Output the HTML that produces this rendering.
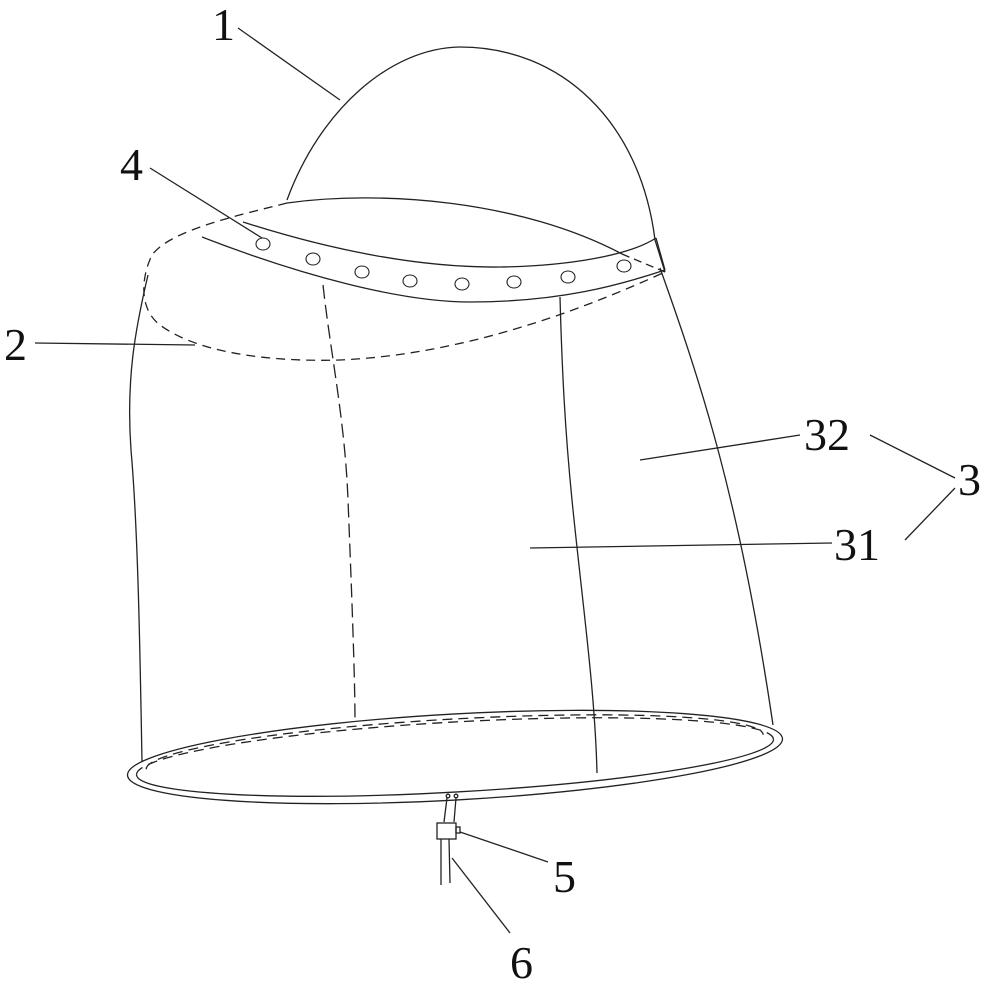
<!DOCTYPE html>
<html><head><style>html,body{margin:0;padding:0;background:#fff}svg{display:block}</style></head>
<body>
<svg width="1000" height="984" viewBox="0 0 1000 984" xmlns="http://www.w3.org/2000/svg">
<g fill="none" stroke="#222" stroke-width="1.3">
<!-- dome -->
<path d="M287,200 C320,110 390,48 460,47 C560,47 640,120 655,240 L665,272"/>
<!-- body right -->
<path d="M660,268 C700,380 740,500 773,725"/>
<!-- brim top -->
<path d="M287,203 C380,190 520,200 622,254"/>
<path d="M622,254 L665,272" stroke-dasharray="8,5"/>
<!-- band -->
<path d="M243,222 C330,250 420,268 500,267 C570,266 630,255 656,238"/>
<path d="M202,237 C300,275 400,302 470,302 C560,302 620,285 665,270"/>
<path d="M656,238 L665,270"/>
<!-- dashed brim 2 -->
<path d="M287,203 C240,215 170,230 152,255 C140,280 140,310 160,325 C200,355 280,362 340,360 C450,355 560,320 665,272" stroke-dasharray="9,6"/>
<!-- left body -->
<path d="M148,275 C135,330 126,380 131,450 C138,530 140,650 142,762"/>
<!-- dashed middle -->
<path d="M323,285 C330,350 345,420 348,500 C352,600 355,680 355,722" stroke-dasharray="14,6"/>
<!-- solid middle -->
<path d="M560,297 C562,370 565,430 572,500 C582,600 595,690 597,773"/>
<!-- ring -->
<g transform="rotate(-3.2 455 757)">
<ellipse cx="455" cy="757" rx="328" ry="43"/>
<path d="M136,757 A319,35 0 0 0 774,757"/>
<path d="M136,757 A319,35 0 0 1 774,757" stroke-dasharray="10,6"/>
<path d="M146,752 A309,33 0 0 1 764,752" stroke-dasharray="10,6"/>
</g>
<!-- holes -->
<g stroke-width="1.1">
<ellipse cx="263" cy="244" rx="7" ry="6"/>
<ellipse cx="313" cy="259" rx="7" ry="6"/>
<ellipse cx="362" cy="272" rx="7" ry="6"/>
<ellipse cx="410" cy="281" rx="7" ry="6"/>
<ellipse cx="462" cy="284" rx="7" ry="6"/>
<ellipse cx="514" cy="282" rx="7" ry="6"/>
<ellipse cx="568" cy="277" rx="7" ry="6"/>
<ellipse cx="624" cy="266" rx="7" ry="6"/>
</g>
<!-- cable -->
<circle cx="448" cy="796" r="1.8"/><circle cx="456" cy="796" r="1.8"/>
<path d="M447,798 L444,822 M456,798 L454,822"/>
<rect x="437" y="823" width="19" height="16"/>
<rect x="456" y="827" width="4" height="6"/>
<path d="M441,839 L441,885 M449,839 L450,883"/>
<!-- leaders -->
<path d="M238,28 L340,100"/>
<path d="M150,168 L262,238"/>
<path d="M35,343 L195,345"/>
<path d="M640,460 L800,435"/>
<path d="M530,548 L832,543"/>
<path d="M870,435 L955,478 M905,540 L955,488"/>
<path d="M460,832 L548,862"/>
<path d="M452,858 L510,933"/>
</g>
<g font-family="'Liberation Serif',serif" font-size="46" fill="#111">
<text x="212" y="40">1</text>
<text x="120" y="180">4</text>
<text x="4" y="360">2</text>
<text x="804" y="450">32</text>
<text x="834" y="560">31</text>
<text x="958" y="495">3</text>
<text x="553" y="892">5</text>
<text x="510" y="978">6</text>
</g>
</svg>
</body></html>
